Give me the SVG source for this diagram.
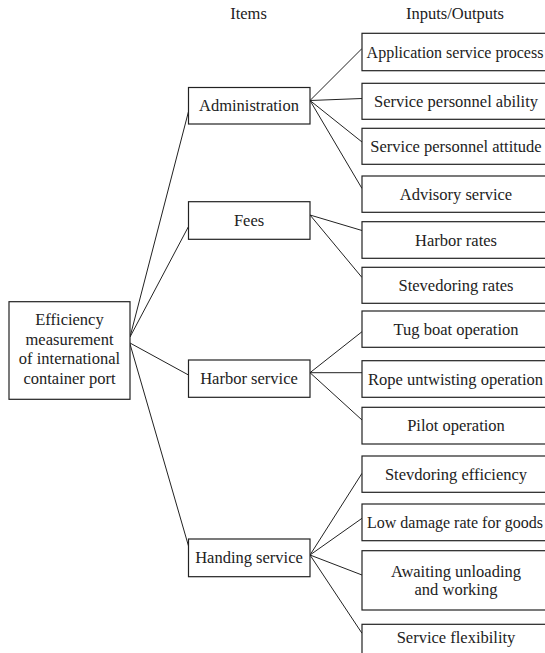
<svg xmlns="http://www.w3.org/2000/svg" width="545" height="653" viewBox="0 0 545 653">
<style>
rect{fill:#fff;stroke:#222;stroke-width:1.2}
text{font-family:'Liberation Serif','DejaVu Serif',serif;font-size:16.5px;fill:#222;text-anchor:middle}
text.fit{font-size:16px}
#connectors line{stroke:#222;stroke-width:1}
</style>
<rect x="0" y="0" width="545" height="653" style="fill:#fff;stroke:none"/>
<g id="headers">
<text x="248.5" y="18.5">Items</text>
<text x="455" y="18.5">Inputs/Outputs</text>
</g>
<g id="connectors">
<line x1="130" y1="337" x2="188.5" y2="111.5"/>
<line x1="130" y1="337" x2="188.5" y2="226.5"/>
<line x1="130" y1="343" x2="188.5" y2="375"/>
<line x1="130" y1="344" x2="188.5" y2="546"/>
<line x1="310" y1="100.5" x2="362" y2="48.5"/>
<line x1="310" y1="100.5" x2="362" y2="98.5"/>
<line x1="310" y1="100.5" x2="362" y2="142"/>
<line x1="310" y1="100.5" x2="362" y2="188.5"/>
<line x1="310" y1="215" x2="362" y2="230.5"/>
<line x1="310" y1="215" x2="362" y2="277.5"/>
<line x1="310" y1="372.7" x2="362" y2="331.7"/>
<line x1="310" y1="372.7" x2="362" y2="372.7"/>
<line x1="310" y1="372.7" x2="362" y2="420"/>
<line x1="310" y1="555" x2="362" y2="473.3"/>
<line x1="310" y1="555" x2="362" y2="518.3"/>
<line x1="310" y1="555" x2="362" y2="575"/>
<line x1="310" y1="555" x2="362" y2="633.3"/>
</g>
<g id="root"><rect x="9" y="301.7" width="121" height="97.6"/>
<text x="69.5" y="325">Efficiency</text>
<text x="69.5" y="344.5">measurement</text>
<text x="69.5" y="364">of international</text>
<text x="69.5" y="383.5">container port</text></g>
<g id="administration"><rect x="188.5" y="87.5" width="121.5" height="36.5"/><text x="249" y="111.2">Administration</text></g>
<g id="fees"><rect x="188.5" y="201.7" width="121.5" height="37.6"/><text x="249" y="226">Fees</text></g>
<g id="harbor-service"><rect x="188.5" y="360" width="121.5" height="37.3"/><text x="249" y="384.2">Harbor service</text></g>
<g id="handing-service"><rect x="188.5" y="539" width="121.5" height="37.7"/><text x="249" y="563.3">Handing service</text></g>
<g id="application"><rect x="362" y="33.3" width="188" height="37.4"/><text class="fit" x="455" y="57.5">Application service process</text></g>
<g id="ability"><rect x="362" y="83.3" width="188" height="36"/><text x="456" y="106.8">Service personnel ability</text></g>
<g id="attitude"><rect x="362" y="128.3" width="188" height="36"/><text x="456" y="151.8">Service personnel attitude</text></g>
<g id="advisory"><rect x="362" y="176" width="188" height="36.3"/><text x="456" y="199.7">Advisory service</text></g>
<g id="harbor-rates"><rect x="362" y="221.7" width="188" height="36.6"/><text x="456" y="245.5">Harbor rates</text></g>
<g id="stevedoring-rates"><rect x="362" y="267.3" width="188" height="36"/><text x="456" y="290.8">Stevedoring rates</text></g>
<g id="tug"><rect x="362" y="311" width="188" height="36.3"/><text x="456" y="334.5">Tug boat operation</text></g>
<g id="rope"><rect x="362" y="360.7" width="188" height="36.6"/><text x="455.5" y="384.5">Rope untwisting operation</text></g>
<g id="pilot"><rect x="362" y="407.3" width="188" height="36.7"/><text x="456" y="431.2">Pilot operation</text></g>
<g id="stevdoring-efficiency"><rect x="362" y="456" width="188" height="36.3"/><text x="456" y="479.7">Stevdoring efficiency</text></g>
<g id="low-damage"><rect x="362" y="504" width="188" height="36.7"/><text class="fit" x="455" y="527.8">Low damage rate for goods</text></g>
<g id="awaiting"><rect x="362" y="550.7" width="188" height="59.3"/><text x="456" y="576.5">Awaiting unloading</text><text x="456" y="594.5">and working</text></g>
<g id="flexibility"><rect x="362" y="624.3" width="188" height="36"/><text x="456" y="643">Service flexibility</text></g>
</svg>
